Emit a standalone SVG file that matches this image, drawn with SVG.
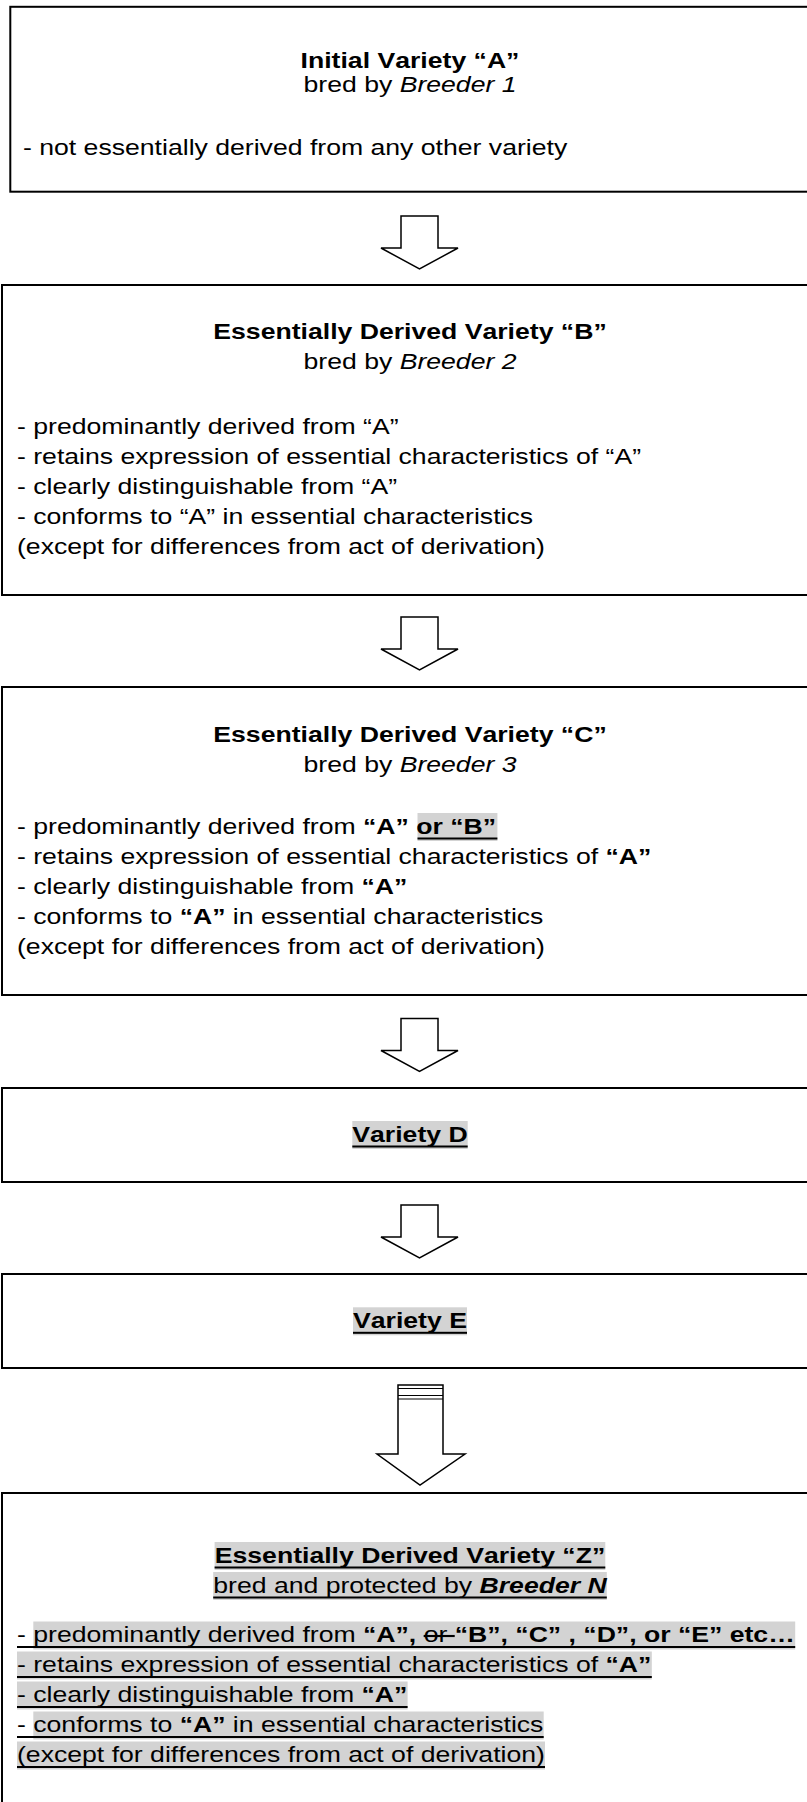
<svg xmlns="http://www.w3.org/2000/svg" width="807" height="1802" viewBox="0 0 807 1802">
<style>
.t{font-family:"Liberation Sans",Arial,sans-serif;font-size:21.3px;fill:#000;font-kerning:none}
.b{font-weight:bold}
.i{font-style:italic}
.c{text-anchor:middle}
.box{fill:none;stroke:#000;stroke-width:2}
.arrow{fill:#fff;stroke:#000;stroke-width:1.5;stroke-linejoin:miter}
.hl{fill:#d3d3d3}
.ul{fill:#000}
.ln{stroke:#000;stroke-width:1.2}
</style>
<rect width="807" height="1802" fill="#fff"/>

<g id="node-a">
  <rect class="box" x="10.3" y="6.8" width="830" height="184.9"/>
  <g transform="scale(1.25 1)">
    <text class="t b c" x="328" y="68">Initial Variety “A”</text>
    <text class="t c" x="328" y="92">bred by <tspan class="i">Breeder 1</tspan></text>
    <text class="t" x="18.4" y="155">- not essentially derived from any other variety</text>
  </g>
</g>

<g id="node-b">
  <rect class="box" x="2" y="285" width="840" height="310"/>
  <g transform="scale(1.25 1)">
    <text class="t b c" x="328" y="339">Essentially Derived Variety “B”</text>
    <text class="t c" x="328" y="369">bred by <tspan class="i">Breeder 2</tspan></text>
    <text class="t" x="13.6" y="434">- predominantly derived from “A”</text>
    <text class="t" x="13.6" y="464">- retains expression of essential characteristics of “A”</text>
    <text class="t" x="13.6" y="494">- clearly distinguishable from “A”</text>
    <text class="t" x="13.6" y="524">- conforms to “A” in essential characteristics</text>
    <text class="t" x="13.6" y="554">(except for differences from act of derivation)</text>
  </g>
</g>

<g id="node-c">
  <rect class="box" x="2" y="687" width="840" height="308"/>
  <rect class="hl" x="417.5" y="813" width="79.9" height="28"/>
  <rect class="ul" x="417.5" y="837.5" width="79.9" height="2"/>
  <g transform="scale(1.25 1)">
    <text class="t b c" x="328" y="742">Essentially Derived Variety “C”</text>
    <text class="t c" x="328" y="772">bred by <tspan class="i">Breeder 3</tspan></text>
    <text class="t" x="13.6" y="834">- predominantly derived from <tspan class="b">“A”</tspan> <tspan class="b">or “B”</tspan></text>
    <text class="t" x="13.6" y="864">- retains expression of essential characteristics of <tspan class="b">“A”</tspan></text>
    <text class="t" x="13.6" y="894">- clearly distinguishable from <tspan class="b">“A”</tspan></text>
    <text class="t" x="13.6" y="924">- conforms to <tspan class="b">“A”</tspan> in essential characteristics</text>
    <text class="t" x="13.6" y="954">(except for differences from act of derivation)</text>
  </g>
</g>

<g id="node-d">
  <rect class="box" x="2" y="1088" width="840" height="94"/>
  <rect class="hl" x="352.3" y="1121" width="115.4" height="28"/>
  <rect class="ul" x="352.3" y="1145.5" width="115.4" height="2"/>
  <g transform="scale(1.25 1)">
    <text class="t b c" x="328" y="1142">Variety D</text>
  </g>
</g>

<g id="node-e">
  <rect class="box" x="2" y="1274" width="840" height="94"/>
  <rect class="hl" x="353" y="1307.3" width="114" height="28"/>
  <rect class="ul" x="353" y="1331.8" width="114" height="2"/>
  <g transform="scale(1.25 1)">
    <text class="t b c" x="328" y="1328.3">Variety E</text>
  </g>
</g>

<g id="node-z">
  <rect class="box" x="2" y="1493" width="840" height="330"/>
  <rect class="hl" x="214.6" y="1542" width="390.7" height="28"/>
  <rect class="ul" x="214.6" y="1566.5" width="390.7" height="2"/>
  <rect class="hl" x="213.2" y="1572" width="393.6" height="28"/>
  <rect class="ul" x="213.2" y="1596.5" width="393.6" height="2"/>
  <rect class="hl" x="33.3" y="1621.5" width="761.9" height="28"/>
  <rect class="ul" x="17" y="1646" width="778.2" height="2"/>
  <rect class="hl" x="17" y="1651.5" width="634.8" height="28"/>
  <rect class="ul" x="17" y="1676" width="634.8" height="2"/>
  <rect class="hl" x="17" y="1681.5" width="390.6" height="28"/>
  <rect class="ul" x="17" y="1706" width="390.6" height="2"/>
  <rect class="hl" x="33.3" y="1711.5" width="510.4" height="28"/>
  <rect class="ul" x="17" y="1736" width="526.7" height="2"/>
  <rect class="hl" x="17" y="1741.5" width="528" height="28"/>
  <rect class="ul" x="17" y="1766" width="528" height="2"/>
  <g transform="scale(1.25 1)">
    <text class="t b c" x="328" y="1563">Essentially Derived Variety “Z”</text>
    <text class="t c" x="328" y="1593">bred and protected by <tspan class="b i">Breeder N</tspan></text>
    <text class="t" x="13.6" y="1642.5">- predominantly derived from <tspan class="b">“A”,</tspan> <tspan text-decoration="line-through">or </tspan><tspan class="b">“B”, “C” , “D”, or “E” etc…</tspan></text>
    <text class="t" x="13.6" y="1672.5">- retains expression of essential characteristics of <tspan class="b">“A”</tspan></text>
    <text class="t" x="13.6" y="1702.5">- clearly distinguishable from <tspan class="b">“A”</tspan></text>
    <text class="t" x="13.6" y="1732.5">- conforms to <tspan class="b">“A”</tspan> in essential characteristics</text>
    <text class="t" x="13.6" y="1762.5">(except for differences from act of derivation)</text>
  </g>
</g>

<g id="connectors">
  <path class="arrow" d="M401,216 H438 V248 H458 L419.5,269 L381,248 H401 Z"/>
  <path class="arrow" d="M401,617 H438 V649 H458 L419.5,670 L381,649 H401 Z"/>
  <path class="arrow" d="M401,1018.5 H438 V1050.5 H458 L419.5,1071.5 L381,1050.5 H401 Z"/>
  <path class="arrow" d="M401,1205 H438 V1237 H458 L419.5,1258 L381,1237 H401 Z"/>
  <path class="arrow" d="M398,1385 H443 V1454 H465 L420,1485 L377,1454 H398 Z"/>
  <line class="ln" x1="398" y1="1388.5" x2="443" y2="1388.5"/>
  <line class="ln" x1="398" y1="1395.5" x2="443" y2="1395.5"/>
  <line class="ln" x1="398" y1="1399" x2="443" y2="1399"/>
</g>
</svg>
